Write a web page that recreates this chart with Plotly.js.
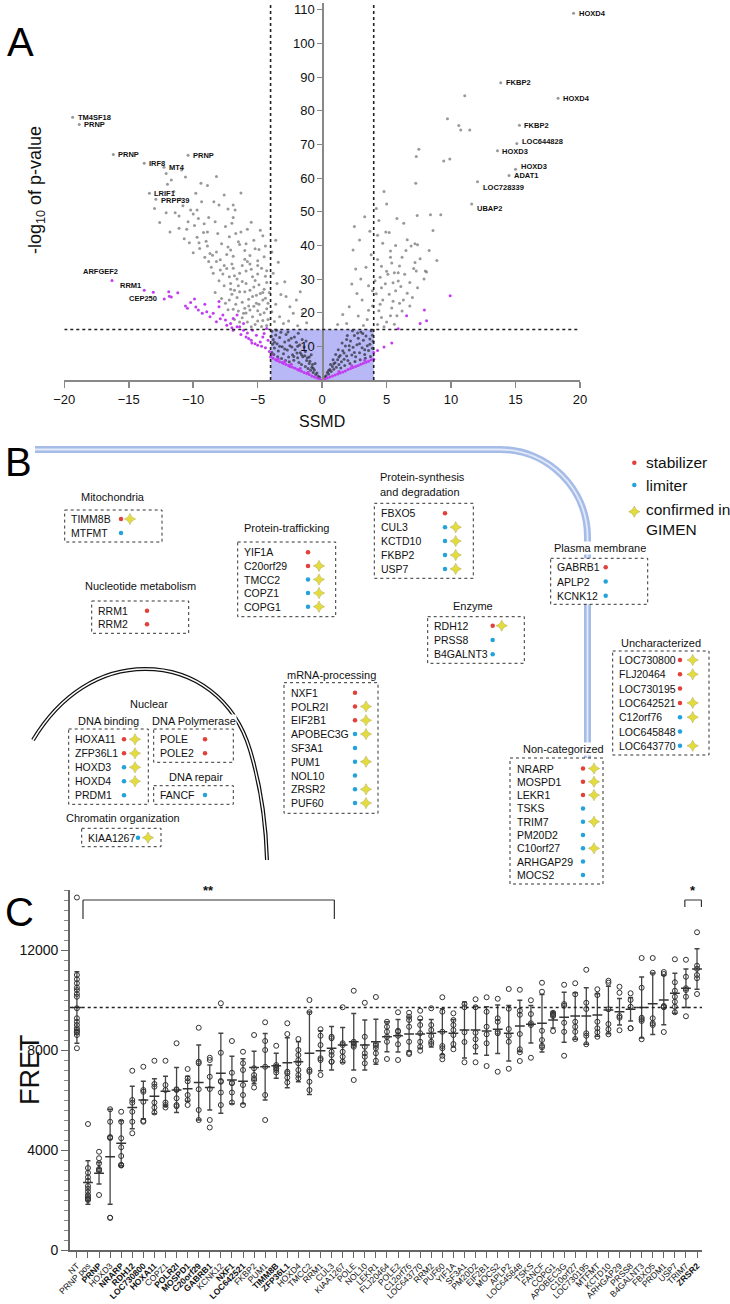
<!DOCTYPE html>
<html><head><meta charset="utf-8">
<script src="https://cdn.plot.ly/plotly-3.0.1.min.js"></script>
<style>html,body{margin:0;padding:0;background:#fff}</style>
</head><body><div id="chart" style="width:730px;height:1304px"></div>
<script>
// ================= PANEL A DATA (SSMD, -log10 p) =================
const ssmdCut = 4, pCut = 15;
const aGrayOuter = [
[-19.35,78.1],[-18.84,75.9],[-16.2,67.0],[-13.8,64.4],[-12.27,63.2],[-10.4,66.8],[-13.4,55.5],[-12.9,53.7],[-11.7,59.4],[-12.0,58.2],[-12.1,61.4],
[-12.1,49.7],[-11.4,49.7],[-11.1,48.7],[-10.2,50.5],[-10.0,49.3],[-9.35,53.0],[-8.4,53.0],[-8.8,48.3],[-7.3,50.8],[-6.75,50.5],[-11.1,45.1],[-10.5,44.8],[-9.9,45.9],[-9.15,46.4],[-9.2,43.8],[-10.3,40.8],[-9.7,42.4],[-9.55,40.8],[-9.0,41.2],[-7.5,45.6],[-7.2,42.6],[-6.5,41.1],[-6.4,40.3],[-9.5,39.1],[-8.7,37.6],[-8.5,37.1],[-8.8,35.2],[-8.2,35.2],[-7.9,35.7],[-7.1,38.6],[-6.9,36.8],[-6.0,35.9],[-5.8,35.2],[-5.0,35.4],[-8.45,31.7],[-7.9,32.7],[-7.2,30.7],[-7.1,28.7],[-6.8,26.7],[-6.4,26.2],[-5.9,28.7],[-5.6,26.7],[-5.4,24.8],[-4.8,25.7],[-4.6,23.8],[-5.1,22.8],[-6.0,21.3],[-5.4,18.8],[-4.6,17.7],[-4.3,16.2],[-6.1,19.8],[-6.4,31.7],[-6.9,33.2],[-5.4,30.7],
[-7.6,34.0],[-7.4,33.1],[-7.0,34.5],[-6.6,30.0],[-6.2,29.3],[-5.9,32.4],[-5.5,32.9],[-5.2,29.6],[-4.9,28.3],[-4.5,27.0],[-4.4,30.8],[-4.7,33.2],[-5.3,27.6],[-6.6,24.5],[-6.2,23.1],[-5.7,22.0],[-5.0,20.6],[-4.8,19.5],[-4.3,21.2],[-4.2,18.0],[-5.8,17.2],[-5.2,16.5],[-7.0,25.5],[-7.6,28.0],[-8.0,29.5],[-8.6,33.5],[-9.1,36.5],[-10.0,37.8],[-10.7,42.0],[-8.1,43.5],[-7.8,40.5],[-6.0,38.5],[-5.6,37.0],[-4.5,36.6],[-4.9,38.8],[-5.3,41.5],[-6.3,44.0],[-7.0,46.6],[-8.3,47.0],[-9.6,48.0],[-10.8,51.8],[-11.5,56.0],[-9.8,55.5],[-8.9,57.8],[-10.6,60.3],[-8.0,52.0],[-6.3,55.6],[-5.5,46.9],[-4.6,42.9],[-5.0,31.5],[-6.7,22.5],[-7.3,20.9],[-6.8,18.0],[-5.5,15.8],[-4.4,24.3],[-4.1,26.0],[-4.3,29.0],[-7.4,37.3],[-8.9,39.8],[-11.8,44.0],[-12.6,46.8],[-11.0,53.8],[-13.0,51.0],[-9.4,58.5],[-10.9,62.4],[-8.2,60.5],[-7.6,55.0],[-6.9,48.3],[-5.8,44.8],[-6.9,52.0],
[-8.3,26.0],[-7.8,24.2],[-7.5,22.8],[-7.2,23.8],[-6.9,21.0],[-6.5,20.5],[-6.2,18.5],[-5.9,19.9],[-5.6,20.8],[-5.3,21.9],[-4.9,22.5],[-4.5,20.0],[-4.2,22.8],[-4.7,15.9],[-5.0,17.5],[-6.4,17.2],[-7.1,27.0],[-6.5,28.0],[-6.0,26.2],[-5.7,24.0],[-5.1,25.2],[-4.6,26.0],[-4.3,32.5],[-5.0,34.0],[-5.6,34.5],[-6.2,34.0],[-6.8,31.0],[-7.7,31.5],[-8.2,38.0],[-7.3,39.5],[-6.7,43.5],[-5.9,40.5],[-5.2,39.0],[-4.8,44.5],[-4.4,39.8],[-8.9,44.0],[-9.7,50.5],[-10.4,47.0],
[-3.8,31.7],[-3.5,28.7],[-2.9,29.2],[-2.8,24.8],[-2.5,21.8],[-2.0,23.8],[-1.7,26.2],[-2.24,19.8],[-1.5,19.8],[-3.3,18.8],[-3.0,16.8],[-3.6,22.5],[-3.9,20.3],[-3.2,25.4],[-3.7,17.4],[-2.6,17.5],[-1.9,16.1],[-3.4,35.0],[-1.2,17.0],[-3.9,38.0],[-3.6,41.5],
[19.5,109],[13.85,88.3],[18.3,83.7],[15.3,75.7],[15.1,70.3],[13.6,68.1],[15.0,62.6],[14.5,60.8],[12.05,58.9],[11.6,52.3],
[11.06,84.5],[9.72,77.6],[10.6,75.6],[10.75,74.3],[11.45,74.3],[7.5,68.6],[7.3,66.4],[9.43,65.1],[9.9,65.7],[7.26,58.5],
[5.8,48.0],[6.33,46.6],[7.37,48.9],[8.4,49.1],[9.2,49.1],[4.94,44.0],[5.2,43.8],[8.6,44.4],[6.6,41.7],[7.2,40.5],[7.4,40.2],[6.9,39.8],[5.3,38.3],[5.3,36.5],[7.6,36.0],[8.9,35.5],[7.2,34.9],[6.0,33.9],[7.1,33.1],[7.3,32.4],[8.0,32.4],[8.1,32.1],[5.0,32.3],[5.6,31.9],[5.9,31.9],[5.1,31.4],[6.4,31.4],[5.9,29.4],[5.5,28.9],[4.6,27.4],[4.9,28.6],[7.4,27.4],[6.6,25.8],[5.5,23.4],[4.7,23.8],[6.3,23.8],[6.0,22.8],[5.4,21.4],[5.3,19.1],[5.8,19.1],[4.6,18.6],[4.3,16.5],[4.8,15.8],[4.4,20.6],[4.2,25.6],[4.5,30.5],[4.3,35.8],[4.7,40.6],[4.4,47.4],[4.2,51.0],[5.0,52.3],[4.8,56.0],
[5.2,25.5],[5.7,26.5],[6.1,27.8],[6.8,29.0],[5.0,17.2],[5.6,16.6],[6.2,20.5],[6.8,22.0],[7.0,24.5],[4.5,22.5],[4.1,29.5],[4.6,33.8],[5.4,34.8],[6.2,36.5],[6.5,38.5],[5.7,40.0],[4.3,43.0],[8.3,38.5],[7.9,30.0],
[2.4,38.6],[2.9,41.6],[2.5,45.6],[3.0,30.0],[3.1,23.8],[2.8,19.0],[2.1,21.8],[1.9,16.8],[2.7,25.7],[3.6,28.0],[3.4,33.5],[3.8,37.2],[3.5,18.0],[3.9,22.0],[3.2,16.2],[2.3,28.5],[1.6,19.5],[3.7,44.2],[3.3,48.5],[1.2,16.5],[3.9,26.5],[3.6,20.7],[2.6,33.0]
];
const aGrayBox = [
[-3.9,14.5],[-3.8,12.0],[-3.7,9.5],[-3.9,8.2],[-3.6,13.4],[-3.5,10.8],[-3.4,8.6],[-3.3,12.6],[-3.2,14.2],[-3.1,9.9],[-3.0,7.8],[-2.9,11.3],[-2.8,13.5],[-2.7,8.9],[-2.6,6.8],[-2.5,10.2],[-2.4,12.4],[-2.3,7.5],[-2.2,5.9],[-2.1,9.0],[-2.0,11.2],[-1.9,6.6],[-1.8,5.2],[-1.7,8.1],[-1.6,4.6],[-1.5,6.9],[-1.4,9.8],[-1.3,4.0],[-1.2,5.8],[-1.1,3.4],[-1.0,4.9],[-0.9,2.9],[-0.8,3.8],[-0.7,2.2],[-0.6,3.0],[-0.5,1.6],[-0.4,2.1],[-0.3,1.1],[-0.2,0.8],[-3.85,10.6],[-3.75,7.6],[-3.45,6.9],[-3.15,6.4],[-2.85,5.8],[-2.55,5.4],[-2.35,9.8],[-2.15,12.8],[-1.95,8.0],[-1.75,10.4],[-1.55,12.0],[-1.35,7.2],[-1.15,6.6],[-0.95,5.6],[-0.75,4.6],[-3.55,14.8],[-2.65,14.3],[-1.85,13.9],[-1.25,11.6],[-0.85,7.5],[-0.55,4.9],
[-3.3,10.0],[-2.9,9.2],[-2.6,11.8],[-2.2,7.0],[-1.9,10.0],[-1.6,7.5],[-1.3,8.5],[-1.0,6.8],[-0.7,3.5],[-3.7,11.2],[-3.95,13.0],
[0.2,0.9],[0.3,1.3],[0.4,2.2],[0.5,1.8],[0.6,3.1],[0.7,2.5],[0.8,4.0],[0.9,3.2],[1.0,5.1],[1.1,3.8],[1.2,6.0],[1.3,4.6],[1.4,7.3],[1.5,5.4],[1.6,8.7],[1.7,6.2],[1.8,10.1],[1.9,7.1],[2.0,5.8],[2.1,8.9],[2.2,11.6],[2.3,7.4],[2.4,9.7],[2.5,13.2],[2.6,6.9],[2.7,10.5],[2.8,12.4],[2.9,8.1],[3.0,14.3],[3.1,9.6],[3.2,11.8],[3.3,7.6],[3.4,13.1],[3.5,10.2],[3.6,8.8],[3.7,12.2],[3.8,14.6],[3.9,9.4],[3.95,11.5],[0.85,6.0],[1.25,9.0],[1.55,11.0],[1.95,13.2],[2.35,14.6],[1.05,7.6],[0.65,4.6],[2.15,4.9],[2.55,5.5],[2.95,6.0],[3.35,6.5],[3.75,7.0],[1.75,4.3],[1.45,3.6],[2.75,14.0],[3.15,13.8],
[0.5,2.8],[0.9,4.8],[1.3,6.8],[1.7,8.0],[2.1,10.2],[2.5,8.2],[2.9,10.8],[3.3,9.0],[3.7,10.6],[3.9,13.3],[1.9,12.0]
];
const aMagenta = [
[-16.3,29.6],[-13.8,26.7],[-13.1,26.1],[-12.25,24.1],[-11.9,26.2],[-11.7,24.7],[-11.2,25.9],[-11.85,24.9],
[-10.6,22.0],[-10.45,21.3],[-9.9,24.1],[-9.8,21.7],[-9.6,20.8],[-9.3,19.8],[-8.95,20.3],[-8.7,18.8],[-8.45,19.8],[-8.0,21.8],[-8.0,23.3],[-7.7,19.3],[-7.5,17.8],[-7.4,16.3],[-7.1,16.8],[-6.9,18.3],[-6.6,19.3],[-6.4,15.8],[-6.1,14.8],[-5.9,12.8],[-5.7,12.3],[-5.5,11.8],[-5.2,10.8],[-5.1,13.3],[-4.8,11.3],[-4.6,12.8],[-4.5,13.8],[-4.3,15.3],[-6.1,16.8],[-8.2,17.3],[-6.9,14.8],[-6.6,15.8],[-5.4,14.8],[-5.45,11.0],[-5.0,10.3],[-4.2,11.8],[-4.4,9.6],[-4.7,10.0],[-6.3,13.5],[-7.0,15.5],[-7.9,18.2],[-9.1,22.5],[-10.2,23.0],[-4.1,8.5],[-5.8,14.0],
[-4.0,6.8],[-3.8,6.5],[-3.6,6.0],[-3.5,5.8],[-3.3,5.4],[-3.1,5.2],[-3.0,4.9],[-2.8,4.6],[-2.6,4.3],[-2.5,4.0],[-2.3,3.8],[-2.1,3.5],[-1.9,3.1],[-1.8,2.9],[-1.6,2.6],[-1.4,2.2],[-1.2,1.9],[-1.0,1.6],[-0.8,1.2],[-0.6,0.9],[-0.4,0.6],[-0.2,0.3],[-3.9,7.4],[-3.4,6.3],[-2.9,5.5],[-2.4,4.7],[-1.7,3.4],[-1.1,2.3],[0.0,0.0],
[0.2,0.3],[0.4,0.6],[0.6,0.9],[0.8,1.2],[1.0,1.5],[1.2,1.8],[1.4,2.1],[1.6,2.4],[1.8,2.7],[2.0,3.1],[2.2,3.4],[2.4,3.7],[2.6,4.0],[2.8,4.3],[3.0,4.7],[3.2,5.0],[3.4,5.3],[3.6,5.6],[3.8,6.0],[4.0,6.2],[1.3,2.5],[2.3,4.2],[3.3,5.9],
[9.93,25.0],[7.93,20.8],[8.1,17.6],[6.55,19.1],[7.6,16.8],[5.9,15.2],[5.4,11.0],[4.8,9.8],[4.3,8.8],[4.0,8.2]
];
const aLabelText = ['TM4SF18','PRNP','PRNP','IRF8','MT4','PRNP','LRIF1','PRPF39','ARFGEF2','RRM1','CEP250',
  'HOXD4','FKBP2','HOXD4','FKBP2','LOC644828','HOXD3','HOXD3','ADAT1','LOC728339','UBAP2'];
const aLabelX = [-19.35,-18.84,-16.2,-13.8,-12.27,-10.4,-13.4,-12.9,-16.3,-13.8,-12.25, 19.5,13.85,18.3,15.3,15.1,13.6,15.0,14.5,12.05,11.6];
const aLabelY = [78.1,75.9,67.0,64.4,63.2,66.8,55.5,53.7,29.6,26.7,24.1, 109,88.3,83.7,75.7,70.3,68.1,62.6,60.8,58.9,52.3];
const aXTicks = [-20,-15,-10,-5,0,5,10,15,20];
const aYTicks = [10,20,30,40,50,60,70,80,90,100,110];

// ================= PANEL B DATA (gene categories) =================
const mitoGenes=['TIMM8B','MTFMT'], mitoRole=['s','l'], mitoConf=[1,0];
const nucGenes=['RRM1','RRM2'], nucRole=['s','s'], nucConf=[0,0];
const trafGenes=['YIF1A','C20orf29','TMCC2','COPZ1','COPG1'], trafRole=['s','s','l','l','l'], trafConf=[0,1,1,1,1];
const synGenes=['FBXO5','CUL3','KCTD10','FKBP2','USP7'], synRole=['s','l','l','l','l'], synConf=[0,1,1,1,1];
const pmGenes=['GABRB1','APLP2','KCNK12'], pmRole=['s','l','l'], pmConf=[0,0,0];
const enzGenes=['RDH12','PRSS8','B4GALNT3'], enzRole=['s','l','l'], enzConf=[1,0,0];
const uncGenes=['LOC730800','FLJ20464','LOC730195','LOC642521','C12orf76','LOC645848','LOC643770'], uncRole=['s','s','s','s','l','l','l'], uncConf=[1,1,0,1,1,0,1];
const ncGenes=['NRARP','MOSPD1','LEKR1','TSKS','TRIM7','PM20D2','C10orf27','ARHGAP29','MOCS2'], ncRole=['s','s','s','l','l','l','l','l','l'], ncConf=[1,1,1,0,1,0,1,0,0];
const mrnaGenes=['NXF1','POLR2I','EIF2B1','APOBEC3G','SF3A1','PUM1','NOL10','ZRSR2','PUF60'], mrnaRole=['s','s','s','l','l','l','l','l','l'], mrnaConf=[0,1,1,1,0,1,0,1,1];
const dbGenes=['HOXA11','ZFP36L1','HOXD3','HOXD4','PRDM1'], dbRole=['s','s','l','l','l'], dbConf=[1,1,1,1,0];
const polGenes=['POLE','POLE2'], polRole=['s','s'], polConf=[0,0];
const repGenes=['FANCF'], repRole=['l'], repConf=[0];
const chrGenes=['KIAA1267'], chrRole=['l'], chrConf=[1];
const legendText=['stabilizer','limiter','confirmed in<br>GIMEN'];

// ================= PANEL C DATA (FRET) =================
const cCats=['NT','PRNP pos','PRNP','HOXD3','NRARP','RDH12','LOC730800','HOXA11','COPZ1','POLR2I','MOSPD1','C20orf29','GABRB1','KCNK12','NXF1','LOC642521','FKBP2','PUM1','TIMM8B','ZFP36L1','HOXD4','TMCC2','RRM1','CUL3','KIAA1267','POLE','NOL10','LEKR1','FLJ20464','POLE2','C12orf76','LOC643770','RRM2','PUF60','YIF1A','SF3A1','PM20D2','EIF2B1','MOCS2','APLP2','LOC645848','TSKS','FANCF','COPG1','APOBEC3G','C10orf27','LOC730195','MTFMT','KCTD10','ARHGAP29','PRSS8','B4GALNT3','FBXO5','PRDM1','USP7','TRIM7','ZRSR2'];
const cBold=['PRNP','NRARP','RDH12','LOC730800','HOXA11','POLR2I','MOSPD1','C20orf29','GABRB1','NXF1','LOC642521','TIMM8B','ZFP36L1','ZRSR2'];
const cMean=[9700,2700,3070,3730,4270,5700,6000,6150,6350,6400,6450,6700,6500,7070,6800,6750,7300,7330,7370,7490,7530,7870,7970,8070,8200,8330,8200,8330,8530,8570,8640,8640,8670,8730,8670,8800,8800,8760,8830,8670,8960,9030,9070,9200,9310,9360,9360,9400,9600,9530,9630,9700,9850,10000,10270,10470,11240];
const cSD=[1430,870,430,1900,900,850,750,700,600,900,500,1500,900,1600,950,900,650,1330,500,1000,800,1650,800,870,700,1130,1000,900,600,650,680,570,550,920,550,1120,950,970,970,1110,1030,750,1150,320,1000,930,1130,850,950,530,470,1220,1230,990,800,770,810];
const cPoints=[
[14100,11000,10830,10670,10500,10400,10240,10130,9670,9270,9130,9000,8870,8730,8600,8070,8800,8700],
[5040,3280,3090,2910,2770,2560,2450,2330,2200,2130,2070,2030,2000],
[3930,3670,3470,3240,3200,3170,2200],
[5630,5130,4510,4510,4480,1290,1290],
[5530,5130,4470,4110,3760,3400,3380,3400],
[7170,6000,5890,5530,5130,4670],
[7330,6400,6330,5930,5170,5130],
[7570,6640,6530,5900,5700,5500],
[7570,6600,6400,5900,5800,5700],
[8270,6430,6400,6070,5800,5750],
[7240,6870,6750,6200,6000,5800],
[8890,7530,7470,6430,5600,5200],
[7690,7600,6930,6440,5200,4900],
[9870,7890,6760,6730,6300,5800],
[8360,7090,6690,6670,6300,5900],
[7930,7470,7200,6600,6200,5800],
[8600,7270,7000,6870,6800,6500],
[9110,8360,8000,7330,6200,5200],
[8170,7400,7330,7270,7200,7100],
[9070,8640,7130,7070,6700,6900],
[8440,8000,7800,7600,7470,7200,7000,6870],
[10000,9510,7200,7130,6730,6400],
[8830,8570,8200,7670,7600,7000],
[8530,8470,7930,7800,7530,7530],
[9710,8270,8200,7930,7730,7530],
[10370,8330,8270,8200,8130,6800],
[9890,8530,8130,7870,7730,7470],
[10120,8240,8170,8070,7870,7570],
[9130,8930,8730,8530,8330,7640],
[9510,8770,8730,8570,8230,7600],
[9490,9330,9200,8930,8330,7890,7840],
[9570,9270,9000,8670,8330,8130,7970],
[9670,9000,8800,8560,8330,8240],
[10110,9530,8730,8160,8070,7770,7630],
[9470,9200,9000,8800,8600,8240,8030],
[9840,9710,8710,8320,7510],
[10030,9710,8690,8430,8130,7510],
[10110,9530,8930,8630,8270,7360],
[10050,9270,9130,8730,8670,7130],
[10440,9650,8840,8570,8330,7250],
[10410,9570,9410,8640,8030,7910,7560],
[9990,9440,9070,9000,7690],
[10690,10330,8770,8400,8170,8110],
[9490,9440,9360,8760,9400],
[10610,9840,9770,9090,8730,7770],
[10670,10230,9130,8930,8730,8440],
[11210,9890,9640,8670,8570,8230],
[10430,10200,9130,8870,8710,8530],
[10770,10690,9630,9040,8830,8630],
[10530,10290,9360,9290,8790],
[10270,10000,9730,8870,8870],
[11680,10490,9290,9230,9160,8430],
[11680,11090,9270,9070,9000],
[11120,11040,9760,9730,9710,8720],
[11630,10710,10370,10130,9930,9730,9510],
[11610,10930,10470,10400,10130,9350],
[12710,11370,11250,11000,10870,10240]
];
const cRefLine = 9700;
const cYTicks=[0,4000,8000,12000];
const cSig = [{from:0.55,to:23.25,text:'**'},{from:54.9,to:56.4,text:'*'}];

// ================= BUILD =================
const FONT='Liberation Sans, Arial, sans-serif';
const traces=[], shapes=[], ann=[];

// ---- Panel A ----
shapes.push({type:'rect',xref:'x',yref:'y',x0:-ssmdCut,x1:ssmdCut,y0:0,y1:pCut,fillcolor:'#b8b8f6',line:{width:0},layer:'below'});
[-ssmdCut, ssmdCut].forEach(v=>shapes.push({type:'line',xref:'x',yref:'y',x0:v,x1:v,y0:0,y1:112,line:{color:'#222',width:1.6,dash:'dot'}}));
shapes.push({type:'line',xref:'x',yref:'y',x0:-20,x1:20,y0:pCut,y1:pCut,line:{color:'#222',width:1.6,dash:'dot'}});
traces.push({type:'scatter',mode:'markers',xaxis:'x',yaxis:'y',x:aGrayOuter.map(p=>p[0]),y:aGrayOuter.map(p=>p[1]),
  marker:{size:3,color:'rgba(110,110,110,0.7)'},hoverinfo:'skip'});
traces.push({type:'scatter',mode:'markers',xaxis:'x',yaxis:'y',x:aGrayBox.map(p=>p[0]),y:aGrayBox.map(p=>p[1]),
  marker:{size:3,color:'rgba(50,50,60,0.75)'},hoverinfo:'skip'});
traces.push({type:'scatter',mode:'markers',xaxis:'x',yaxis:'y',x:aMagenta.map(p=>p[0]),y:aMagenta.map(p=>p[1]),
  marker:{size:3,color:'#c23cf0'},hoverinfo:'skip'});
const aLabShift={8:{xa:'center',xs:-12,ys:9},9:{xa:'right',xs:-1,ys:5},10:{xa:'right',xs:-5,ys:0},15:{xa:'left',xs:3,ys:2},16:{xa:'left',xs:3,ys:-1},17:{xa:'left',xs:3,ys:3},19:{xa:'left',xs:3,ys:-6},20:{xa:'left',xs:3,ys:-4},7:{xa:'left',xs:3,ys:-1}};
aLabelText.forEach((t,i)=>{
  const s=aLabShift[i]||{xa:'left',xs:3,ys:0};
  ann.push({xref:'x',yref:'y',x:aLabelX[i],y:aLabelY[i],text:'<b>'+t+'</b>',showarrow:false,xanchor:s.xa,yanchor:'middle',xshift:s.xs,yshift:s.ys,font:{family:FONT,size:7.5,color:'#111'}});
});
ann.push({xref:'x3',yref:'y3',x:36,y:190,text:'-log<sub>10</sub> of p-value',textangle:-90,showarrow:false,font:{family:FONT,size:18,color:'#111'}});
ann.push({xref:'x3',yref:'y3',x:322,y:421,text:'SSMD',showarrow:false,font:{family:FONT,size:16,color:'#111'}});

// ---- Panel C ----
const cxFlat=[], cyFlat=[];
cPoints.forEach((arr,i)=>arr.forEach(v=>{cxFlat.push(cCats[i]);cyFlat.push(v);}));
traces.push({type:'scatter',mode:'markers',xaxis:'x2',yaxis:'y2',x:cCats,y:cMean,
  error_y:{type:'data',array:cSD,visible:true,color:'#444',thickness:1.3,width:2.5},
  marker:{symbol:'line-ew-open',size:7,color:'#333',line:{color:'#333',width:1.5}},hoverinfo:'skip'});
traces.push({type:'scatter',mode:'markers',xaxis:'x2',yaxis:'y2',x:cxFlat,y:cyFlat,
  marker:{symbol:'circle-open',size:5,line:{color:'#333',width:1},color:'#333'},hoverinfo:'skip'});
shapes.push({type:'line',xref:'x2',yref:'y2',x0:-0.65,x1:56.45,y0:cRefLine,y1:cRefLine,line:{color:'#222',width:1.6,dash:'dot'}});
const brTop=14000, brLeg=[13240,13720];
cSig.forEach((s,k)=>{
  const lo=brLeg[k];
  shapes.push({type:'line',xref:'x2',yref:'y2',x0:s.from,x1:s.to,y0:brTop,y1:brTop,line:{color:'#333',width:1.2}});
  shapes.push({type:'line',xref:'x2',yref:'y2',x0:s.from,x1:s.from,y0:lo,y1:brTop,line:{color:'#333',width:1.2}});
  shapes.push({type:'line',xref:'x2',yref:'y2',x0:s.to,x1:s.to,y0:lo,y1:brTop,line:{color:'#333',width:1.2}});
  ann.push({xref:'x2',yref:'y2',x:(s.from+s.to)/2,y:brTop,text:'<b>'+s.text+'</b>',showarrow:false,yanchor:'bottom',font:{family:FONT,size:13,color:'#111'}});
});
ann.push({xref:'x3',yref:'y3',x:30,y:1070,text:'FRET',textangle:-90,showarrow:false,font:{family:FONT,size:27,color:'#111'}});

// ---- Panel letters ----
[['A',20,42],['B',18,462],['C',19,912]].forEach(l=>ann.push({xref:'x3',yref:'y3',x:l[1],y:l[2],text:l[0],showarrow:false,font:{family:FONT,size:40,color:'#000'}}));

// ---- Panel B ----
const blueCorner='M 35,449.5 L 500,449.5 C 548.3,449.5 587.5,488.7 587.5,537 L 587.5,884';
shapes.push({type:'path',xref:'x3',yref:'y3',path:blueCorner,line:{color:'#a6bce8',width:7},layer:'below'});
shapes.push({type:'path',xref:'x3',yref:'y3',path:blueCorner,line:{color:'#e2e9f8',width:1.8},layer:'below'});
const nucArc='M 33,740 C 60,695 100,669 145,669 C 195,669 235,700 250,750 C 262,790 266,825 267,860';
shapes.push({type:'path',xref:'x3',yref:'y3',path:nucArc,line:{color:'#111',width:4},layer:'below'});
shapes.push({type:'path',xref:'x3',yref:'y3',path:nucArc,line:{color:'#fff',width:1.5},layer:'below'});

const bBoxes=[
 {g:mitoGenes,r:mitoRole,c:mitoConf,title:['Mitochondria'],tx:113,ty:497,box:[64.7,510,162,542],ix:69,iy:519,dy:14,dx:121,sx:130},
 {g:nucGenes,r:nucRole,c:nucConf,title:['Nucleotide metabolism'],tx:140,ty:586,box:[91.7,601,188.7,633.3],ix:96,iy:610.7,dy:13.5,dx:147,sx:157},
 {g:trafGenes,r:trafRole,c:trafConf,title:['Protein-trafficking'],tx:286,ty:527.7,box:[237.7,542,335.7,616.7],ix:242,iy:552.3,dy:13.6,dx:308,sx:319},
 {g:synGenes,r:synRole,c:synConf,title:['Protein-synthesis','and degradation'],tx:379,ty:476.7,tl:true,box:[374.3,503.3,473.3,578.3],ix:379,iy:513.3,dy:13.9,dx:445,sx:455.7},
 {g:pmGenes,r:pmRole,c:pmConf,title:['Plasma membrane'],tx:600,ty:548.3,box:[550.7,558.3,647.7,604.3],ix:555,iy:567.3,dy:14.2,dx:605.7,sx:616},
 {g:enzGenes,r:enzRole,c:enzConf,title:['Enzyme'],tx:473.3,ty:606,box:[427.7,616.7,524.3,663.3],ix:431.7,iy:625.7,dy:14.3,dx:492.7,sx:501.7},
 {g:uncGenes,r:uncRole,c:uncConf,title:['Uncharacterized'],tx:660.8,ty:642.7,box:[612.7,651,709,755],ix:617.3,iy:660,dy:14.3,dx:680,sx:692.7},
 {g:ncGenes,r:ncRole,c:ncConf,title:['Non-categorized'],tx:563,ty:749,box:[510,758,603,884],ix:515,iy:768.5,dy:13.3,dx:583,sx:594},
 {g:mrnaGenes,r:mrnaRole,c:mrnaConf,title:['mRNA-processing'],tx:331,ty:675,box:[284,682.7,378,813.3],ix:289,iy:692.7,dy:13.8,dx:355,sx:366},
 {g:dbGenes,r:dbRole,c:dbConf,title:['DNA binding'],tx:108,ty:720.7,box:[68.7,729,148.3,804.3],ix:73,iy:739.3,dy:14,dx:124,sx:135},
 {g:polGenes,r:polRole,c:polConf,title:['DNA Polymerase'],tx:193.7,ty:720.7,box:[153.7,729,233.3,762.3],ix:158,iy:739.3,dy:14,dx:205,sx:215},
 {g:repGenes,r:repRole,c:repConf,title:['DNA repair'],tx:195.8,ty:776.7,box:[153.7,785.7,233.3,804.3],ix:158,iy:795,dy:14,dx:205,sx:215},
 {g:chrGenes,r:chrRole,c:chrConf,title:['Chromatin organization'],tx:123,ty:818.3,box:[81.7,828.3,161,846.7],ix:86,iy:837.7,dy:14,dx:138,sx:148}
];
const redX=[],redY=[],bluX=[],bluY=[],starX=[],starY=[];
bBoxes.forEach(b=>{
  shapes.push({type:'rect',xref:'x3',yref:'y3',x0:b.box[0],x1:b.box[2],y0:b.box[1],y1:b.box[3],fillcolor:'#fff',line:{color:'#333',width:1,dash:'dot'},layer:'below'});
  b.title.forEach((t,k)=>ann.push({xref:'x3',yref:'y3',x:b.tx,y:b.ty+k*15,text:t,showarrow:false,xanchor:b.tl?'left':'center',yanchor:'middle',bgcolor:'#fff',borderpad:0,font:{family:FONT,size:11,color:'#111'}}));
  b.g.forEach((g,k)=>{
    const y=b.iy+k*b.dy;
    ann.push({xref:'x3',yref:'y3',x:b.ix,y:y,text:g,showarrow:false,xanchor:'left',yanchor:'middle',font:{family:FONT,size:10.5,color:'#111'}});
    if(b.r[k]==='s'){redX.push(b.dx);redY.push(y);} else {bluX.push(b.dx);bluY.push(y);}
    if(b.c[k]){starX.push(b.sx);starY.push(y);}
  });
});
ann.push({xref:'x3',yref:'y3',x:149,y:704.3,text:'Nuclear',showarrow:false,font:{family:FONT,size:11,color:'#111'}});
redX.push(634.3);redY.push(462.7);bluX.push(634.3);bluY.push(485);starX.push(634.3);starY.push(511.7);
ann.push({xref:'x3',yref:'y3',x:644,y:462.7,text:legendText[0],showarrow:false,xanchor:'left',yanchor:'middle',font:{family:FONT,size:15.5,color:'#111'}});
ann.push({xref:'x3',yref:'y3',x:644,y:485,text:legendText[1],showarrow:false,xanchor:'left',yanchor:'middle',font:{family:FONT,size:15.5,color:'#111'}});
ann.push({xref:'x3',yref:'y3',x:644,y:519,text:legendText[2],showarrow:false,xanchor:'left',yanchor:'middle',align:'left',font:{family:FONT,size:15.5,color:'#111'}});
traces.push({type:'scatter',mode:'markers',xaxis:'x3',yaxis:'y3',x:redX,y:redY,marker:{size:4.5,color:'#e2403a'},hoverinfo:'skip'});
traces.push({type:'scatter',mode:'markers',xaxis:'x3',yaxis:'y3',x:bluX,y:bluY,marker:{size:4.5,color:'#24a2dc'},hoverinfo:'skip'});
traces.push({type:'scatter',mode:'markers',xaxis:'x3',yaxis:'y3',x:starX,y:starY,marker:{symbol:'star-diamond',size:8,color:'#e3dc3c',line:{color:'#a9a330',width:0.5}},hoverinfo:'skip'});

const W=730,H=1304;
const layout={
  width:W,height:H,margin:{l:0,r:0,t:0,b:0},showlegend:false,
  paper_bgcolor:'#fff',plot_bgcolor:'rgba(0,0,0,0)',
  font:{family:FONT,color:'#111'},
  xaxis:{domain:[64.3/W,580/W],range:[-20,20],anchor:'y',showgrid:false,zeroline:false,showline:true,linecolor:'#888',linewidth:2,
    ticks:'outside',ticklen:6,tickcolor:'#888',tickwidth:1.5,tickvals:aXTicks,tickfont:{size:13,family:FONT,color:'#111'},fixedrange:true},
  yaxis:{domain:[1-380/H,1-3.1/H],range:[0,112],anchor:'free',position:322.3/W,showgrid:false,zeroline:false,showline:true,linecolor:'#888',linewidth:1.5,
    ticks:'outside',ticklen:5,tickcolor:'#888',tickvals:aYTicks,tickfont:{size:13,family:FONT,color:'#111'},fixedrange:true},
  xaxis2:{domain:[69.7/W,702/W],type:'category',range:[-0.65,56.45],anchor:'y2',showgrid:false,zeroline:false,showline:true,linecolor:'#666',linewidth:1.5,
    ticks:'outside',ticklen:6,tickcolor:'#666',tickvals:cCats,ticktext:cCats.map(c=>cBold.includes(c)?'<b>'+c+'</b>':c),tickangle:-45,
    tickfont:{size:8.6,family:FONT,color:'#111'},fixedrange:true},
  yaxis2:{domain:[1-1250/H,1-890/H],range:[0,14400],anchor:'x2',showgrid:false,zeroline:false,showline:true,linecolor:'#666',linewidth:1.5,
    ticks:'outside',ticklen:7,tickcolor:'#666',tickvals:cYTicks,ticktext:cYTicks.map(String),tickfont:{size:14,family:FONT,color:'#111'},
    minor:{dtick:400,ticks:'outside',ticklen:4,tickcolor:'#888'},fixedrange:true},
  xaxis3:{domain:[0,1],range:[0,W],visible:false,anchor:'y3',fixedrange:true},
  yaxis3:{domain:[0,1],range:[H,0],visible:false,anchor:'x3',fixedrange:true},
  shapes:shapes,annotations:ann
};
Plotly.newPlot('chart',traces,layout,{displayModeBar:false,staticPlot:true});
</script></body></html>
